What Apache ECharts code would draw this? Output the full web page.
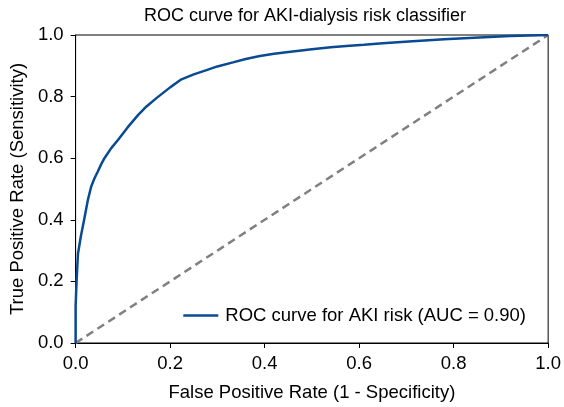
<!DOCTYPE html>
<html>
<head>
<meta charset="utf-8">
<script src="https://cdn.jsdelivr.net/npm/echarts@6/dist/echarts.min.js"></script>
<style>
html,body{margin:0;padding:0;background:#fff;}
#chart{width:564px;height:407px;}
</style>
</head>
<body>
<div id="chart"></div>
<script>
const titleText = 'ROC curve for AKI-dialysis risk classifier';
const rocName = 'ROC curve for AKI risk (AUC = 0.90)';
const fpr = [0, 0, 0.002, 0.005, 0.011, 0.018, 0.026, 0.033, 0.04, 0.047, 0.054, 0.061, 0.075, 0.09, 0.11, 0.132, 0.15, 0.171, 0.2, 0.224, 0.25, 0.277, 0.3, 0.333, 0.36, 0.39, 0.42, 0.446, 0.5, 0.54, 0.573, 0.61, 0.65, 0.713, 0.78, 0.854, 0.92, 1.0];
const tpr = [0, 0.12, 0.2, 0.29, 0.346, 0.40, 0.465, 0.508, 0.535, 0.557, 0.58, 0.60, 0.632, 0.66, 0.70, 0.74, 0.768, 0.795, 0.83, 0.856, 0.872, 0.886, 0.898, 0.911, 0.922, 0.932, 0.939, 0.944, 0.954, 0.96, 0.964, 0.968, 0.973, 0.98, 0.986, 0.992, 0.997, 1.0];
const chanceX = [0, 1];
const chanceY = [0, 1];

const font = 'Liberation Sans, Arial, Helvetica, sans-serif';
const fs = 18.5;
const chart = echarts.init(document.getElementById('chart'), null, {renderer: 'canvas'});
chart.setOption({
  animation: false,
  backgroundColor: '#fff',
  title: {
    text: titleText, left: 144, top: 7, padding: 0,
    textStyle: {fontFamily: font, fontSize: 18, fontWeight: 'normal', color: '#000'}
  },
  grid: {left: 75.5, right: 15, top: 35, bottom: 64, show: true, borderColor: '#000', borderWidth: 1, containLabel: false},
  legend: {
    data: [rocName], right: 38, top: 306, padding: 0, icon: 'rect', itemWidth: 35, itemHeight: 2.5, itemGap: 8,
    textStyle: {fontFamily: font, fontSize: fs, color: '#000', padding: [0, 0, 0, 2]}
  },
  xAxis: {
    type: 'value', min: 0, max: 1, interval: 0.2,
    name: 'False Positive Rate (1 - Specificity)', nameLocation: 'middle', nameGap: 40,
    nameTextStyle: {fontFamily: font, fontSize: fs, color: '#000'},
    axisLine: {show: true, lineStyle: {color: '#000', width: 1}},
    axisTick: {show: true, inside: false, length: 5, lineStyle: {color: '#000'}},
    axisLabel: {fontFamily: font, fontSize: fs, color: '#000', margin: 11, formatter: v => v.toFixed(1)},
    splitLine: {show: false}
  },
  yAxis: {
    type: 'value', min: 0, max: 1, interval: 0.2,
    name: 'True Positive Rate (Sensitivity)', nameLocation: 'middle', nameGap: 46,
    nameTextStyle: {fontFamily: font, fontSize: fs, color: '#000'},
    axisLine: {show: true, lineStyle: {color: '#000', width: 1}},
    axisTick: {show: true, inside: false, length: 5, lineStyle: {color: '#000'}},
    axisLabel: {fontFamily: font, fontSize: fs, color: '#000', margin: 12, formatter: v => v.toFixed(1)},
    splitLine: {show: false}
  },
  series: [
    {
      name: 'chance', type: 'line', data: chanceX.map((x, i) => [x, chanceY[i]]),
      showSymbol: false, symbol: 'none', silent: true,
      lineStyle: {color: '#808080', width: 2.5, type: [8, 5]}, z: 2
    },
    {
      name: rocName, type: 'line', data: fpr.map((x, i) => [x, tpr[i]]),
      showSymbol: false, symbol: 'none', smooth: false,
      lineStyle: {color: '#0a4a92', width: 2.5}, itemStyle: {color: '#0a4a92'}, z: 3
    }
  ]
});
</script>
</body>
</html>
